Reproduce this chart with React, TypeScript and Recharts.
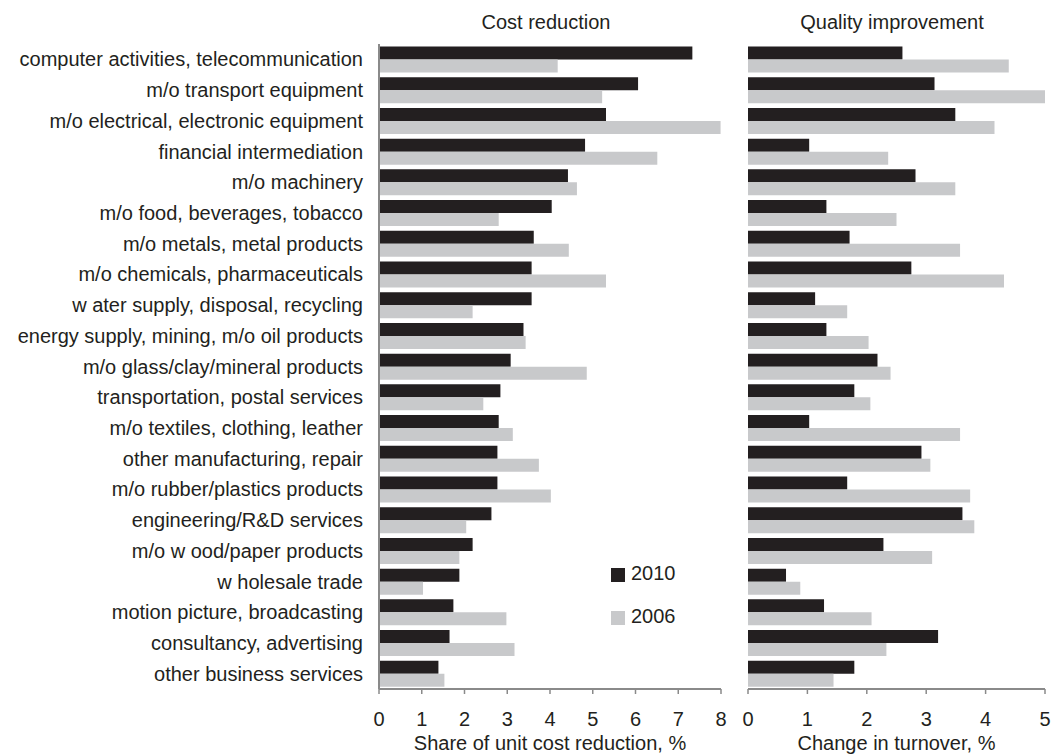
import React from "react";
import { BarChart, Bar, XAxis, YAxis, Legend } from "recharts";

const categories = [
  "computer activities, telecommunication",
  "m/o transport equipment",
  "m/o electrical, electronic equipment",
  "financial intermediation",
  "m/o machinery",
  "m/o food, beverages, tobacco",
  "m/o metals, metal products",
  "m/o chemicals, pharmaceuticals",
  "w ater supply, disposal, recycling",
  "energy supply, mining, m/o oil products",
  "m/o glass/clay/mineral products",
  "transportation, postal services",
  "m/o textiles, clothing, leather",
  "other manufacturing, repair",
  "m/o rubber/plastics products",
  "engineering/R&D services",
  "m/o w ood/paper products",
  "w holesale trade",
  "motion picture, broadcasting",
  "consultancy, advertising",
  "other business services",
];

const cost2010 = [7.33, 6.06, 5.31, 4.82, 4.42, 4.04, 3.62, 3.57, 3.57, 3.38, 3.08, 2.84, 2.8, 2.77, 2.77, 2.63, 2.19, 1.88, 1.74, 1.65, 1.39];
const cost2006 = [4.18, 5.22, 7.99, 6.51, 4.63, 2.8, 4.44, 5.31, 2.19, 3.43, 4.86, 2.44, 3.13, 3.74, 4.02, 2.04, 1.88, 1.03, 2.98, 3.17, 1.53];
const quality2010 = [2.6, 3.14, 3.49, 1.03, 2.82, 1.32, 1.71, 2.75, 1.13, 1.32, 2.18, 1.79, 1.03, 2.92, 1.67, 3.61, 2.28, 0.64, 1.28, 3.2, 1.79];
const quality2006 = [4.39, 5.07, 4.15, 2.36, 3.49, 2.5, 3.57, 4.31, 1.67, 2.03, 2.4, 2.06, 3.57, 3.07, 3.74, 3.81, 3.1, 0.88, 2.08, 2.33, 1.44];

const costTicks = [0, 1, 2, 3, 4, 5, 6, 7, 8];
const qualityTicks = [0, 1, 2, 3, 4, 5];
const legendOrder = ["2010", "2006"];

const DARK = "#231f20";
const LIGHT = "#c8c9cb";
const AXIS = "#8a8a8a";
const FONT = "'Liberation Sans', Arial, sans-serif";

const costData = categories.map((name, i) => ({ name, y2010: cost2010[i], y2006: cost2006[i] }));
const qualityData = categories.map((name, i) => ({ name, y2010: quality2010[i], y2006: quality2006[i] }));

const tickStyle = { fill: DARK, fontSize: 20, fontFamily: FONT };

interface LegendItem {
  value?: string;
  color?: string;
}

// square swatches, 2010 above 2006 like the original
function SquareLegend({ payload }: { payload?: LegendItem[] }) {
  if (!payload) return null;
  const items = [...payload].sort(
    (a, b) => legendOrder.indexOf(String(a.value)) - legendOrder.indexOf(String(b.value))
  );
  return (
    <div>
      {items.map((item) => (
        <div key={item.value} style={{ display: "flex", alignItems: "center", height: 43 }}>
          <span style={{ width: 14, height: 14, background: item.color, marginRight: 6 }} />
          <span style={{ fontSize: 20, color: DARK, lineHeight: "20px", marginTop: -3 }}>{item.value}</span>
        </div>
      ))}
    </div>
  );
}

const titleStyle: React.CSSProperties = {
  position: "absolute",
  top: 10,
  fontSize: 20,
  color: DARK,
  textAlign: "center",
  lineHeight: "24px",
};

export default function App() {
  return (
    <div style={{ position: "absolute", left: 0, top: 0, width: 1054, height: 755, background: "#fff", fontFamily: FONT }}>
      <div style={{ ...titleStyle, left: 379, width: 334 }}>Cost reduction</div>
      <div style={{ ...titleStyle, left: 748, width: 288 }}>Quality improvement</div>

      <div style={{ position: "absolute", left: 0, top: 0 }}>
        <BarChart
          width={740}
          height={755}
          layout="vertical"
          data={costData}
          margin={{ top: 44, right: 19, bottom: 0, left: 0 }}
          barCategoryGap={2.5}
          barGap={0}
        >
          <XAxis
            type="number"
            domain={[0, 8]}
            ticks={costTicks}
            allowDataOverflow
            height={66}
            tick={tickStyle}
            tickSize={5}
            tickMargin={18}
            axisLine={{ stroke: AXIS, strokeWidth: 2 }}
            tickLine={{ stroke: AXIS, strokeWidth: 1.5 }}
            label={{
              value: "Share of unit cost reduction, %",
              position: "insideBottom",
              offset: 5,
              fill: DARK,
              fontSize: 20,
              fontFamily: FONT,
            }}
          />
          <YAxis
            type="category"
            dataKey="name"
            width={379}
            tick={tickStyle}
            tickSize={0}
            tickMargin={16}
            tickLine={false}
            interval={0}
            axisLine={{ stroke: AXIS, strokeWidth: 2 }}
          />
          <Legend
            layout="vertical"
            align="center"
            verticalAlign="middle"
            wrapperStyle={{ left: 611, top: 553, width: 90 }}
            content={<SquareLegend />}
          />
          <Bar dataKey="y2010" name="2010" fill={DARK} isAnimationActive={false} />
          <Bar dataKey="y2006" name="2006" fill={LIGHT} isAnimationActive={false} />
        </BarChart>
      </div>

      <div style={{ position: "absolute", left: 740, top: 0 }}>
        <BarChart
          width={314}
          height={755}
          layout="vertical"
          data={qualityData}
          margin={{ top: 44, right: 9, bottom: 0, left: 8 }}
          barCategoryGap={2.5}
          barGap={0}
        >
          <XAxis
            type="number"
            domain={[0, 5]}
            ticks={qualityTicks}
            allowDataOverflow
            height={66}
            tick={tickStyle}
            tickSize={5}
            tickMargin={18}
            axisLine={{ stroke: AXIS, strokeWidth: 2 }}
            tickLine={{ stroke: AXIS, strokeWidth: 1.5 }}
            label={{
              value: "Change in turnover, %",
              position: "insideBottom",
              offset: 5,
              fill: DARK,
              fontSize: 20,
              fontFamily: FONT,
            }}
          />
          <YAxis
            type="category"
            dataKey="name"
            width={0}
            tick={false}
            tickLine={false}
            interval={0}
            axisLine={{ stroke: AXIS, strokeWidth: 2 }}
          />
          <Bar dataKey="y2010" name="2010" fill={DARK} isAnimationActive={false} />
          <Bar dataKey="y2006" name="2006" fill={LIGHT} isAnimationActive={false} />
        </BarChart>
      </div>
    </div>
  );
}
